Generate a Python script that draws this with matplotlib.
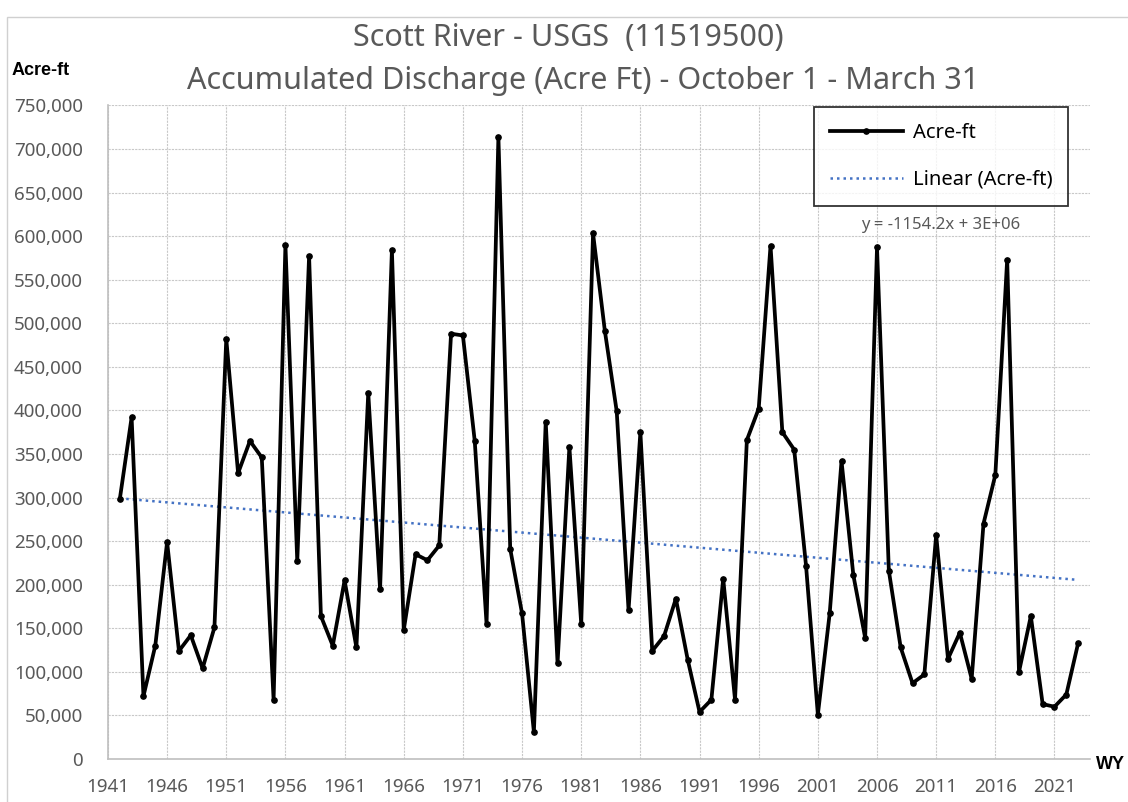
import matplotlib.pyplot as plt
import numpy as np
from matplotlib.ticker import FuncFormatter, MultipleLocator
from matplotlib.patches import Rectangle

# 水年ごとの累積流量 (Acre-ft), 10月1日〜3月31日
years = list(range(1942, 2024))
acre_ft = [
    298000, 392000, 72000, 130000, 249000, 124000, 142000, 104000, 151000, 482000,
    328000, 365000, 346000, 68000, 590000, 227000, 577000, 164000, 130000, 205000,
    128000, 420000, 195000, 584000, 148000, 235000, 228000, 245000, 488000, 486000,
    365000, 155000, 714000, 241000, 167000, 31000, 387000, 110000, 358000, 155000,
    603000, 491000, 399000, 171000, 375000, 124000, 141000, 184000, 114000, 54000,
    68000, 207000, 68000, 366000, 402000, 589000, 375000, 355000, 222000, 51000,
    167000, 342000, 211000, 139000, 587000, 216000, 128000, 87000, 97000, 257000,
    115000, 145000, 92000, 270000, 326000, 573000, 100000, 164000, 63000, 60000,
    74000, 133000,
]
x_ticks = list(range(1941, 2022, 5))

title1 = 'Scott River - USGS  (11519500)'
title2 = 'Accumulated Discharge (Acre Ft) - October 1 - March 31'
equation = 'y = -1154.2x + 3E+06'

plt.rcParams['font.family'] = ['Noto Sans', 'DejaVu Sans']

fig = plt.figure(figsize=(11.28, 8.02), dpi=100)
ax = fig.add_axes([0.0957, 0.0536, 0.8706, 0.815])

# 外枠
fig.patches.append(Rectangle((0.006, -0.01), 0.995, 0.989, transform=fig.transFigure,
                             fill=False, edgecolor='#d0d0d0', lw=1.0))

ax.plot(years, acre_ft, color='black', lw=2.7, marker='o', markersize=3.8,
        label='Acre-ft', zorder=3)

# 線形トレンド
coef = np.polyfit(years, acre_ft, 1)
trend = np.polyval(coef, years)
ax.plot(years, trend, color='#4472c4', lw=1.8, linestyle=(0, (1, 1.6)),
        label='Linear (Acre-ft)', zorder=2)

ax.set_xlim(1941, 2024)
ax.set_ylim(0, 750000)
ax.set_xticks(x_ticks)
ax.yaxis.set_major_locator(MultipleLocator(50000))
ax.yaxis.set_major_formatter(FuncFormatter(lambda v, p: f'{int(v):,}'))
ax.grid(True, color='#c8c8c8', lw=0.8, linestyle=(0, (2, 1)))
ax.set_axisbelow(True)
ax.tick_params(length=0, labelsize=13.5, colors='#595959')
ax.tick_params(axis='y', pad=18)
ax.tick_params(axis='x', pad=14)
for s in ['top', 'right']:
    ax.spines[s].set_visible(False)
for s in ['left', 'bottom']:
    ax.spines[s].set_color('#bfbfbf')
    ax.spines[s].set_linewidth(1.2)

leg = ax.legend(loc='upper right', bbox_to_anchor=(0.978, 0.997), fontsize=14.5,
                frameon=True, fancybox=False, edgecolor='black', handlelength=3.6,
                labelspacing=1.3, borderpad=0.8, handletextpad=0.5, borderaxespad=0)
leg.get_frame().set_linewidth(1.3)

ax.text(0.848, 0.817, equation, transform=ax.transAxes, ha='center', va='center',
        fontsize=12, color='#595959')

fig.text(0.5035, 0.953, title1, ha='center', va='center', fontsize=22, color='#595959')
fig.text(0.517, 0.899, title2, ha='center', va='center', fontsize=22, color='#595959')
fig.text(0.010, 0.912, 'Acre-ft', ha='left', va='center', fontsize=13,
         fontweight='bold', color='black', family=['Liberation Sans', 'DejaVu Sans'])
fig.text(0.972, 0.047, 'WY', ha='left', va='center', fontsize=13,
         fontweight='bold', color='black', family=['Liberation Sans', 'DejaVu Sans'])

fig.savefig('out.png', dpi=100)
